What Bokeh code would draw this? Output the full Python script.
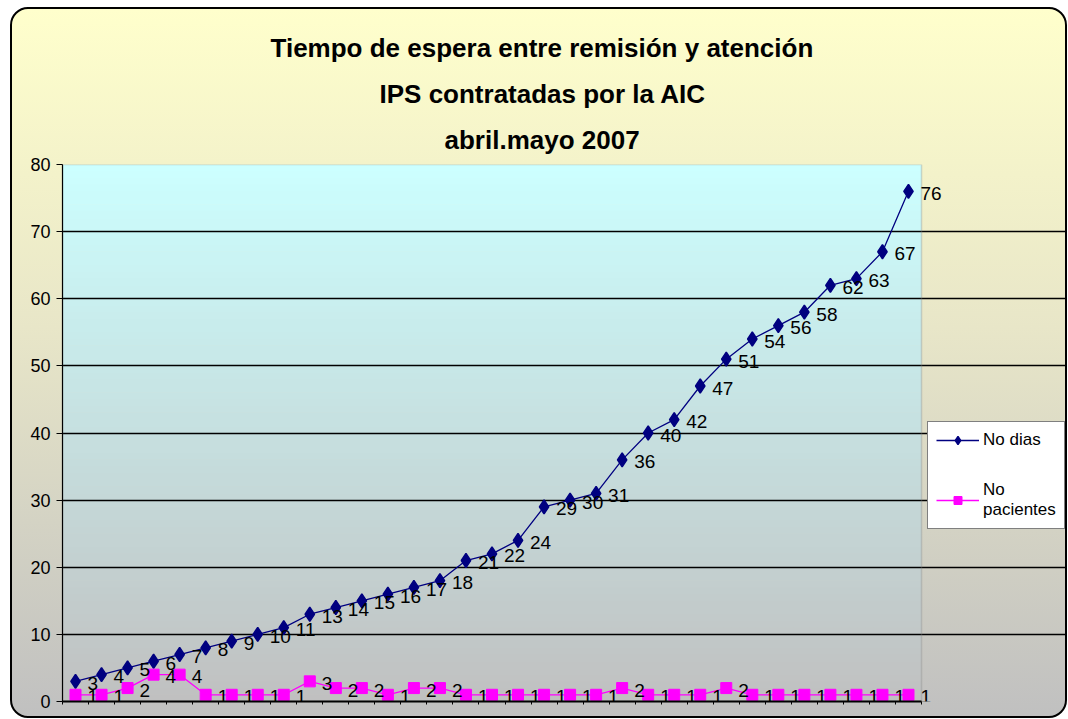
from bokeh.plotting import figure
from bokeh.models import (ColumnDataSource, LabelSet, Legend, LegendItem,
                          FixedTicker, BoxAnnotation, Title)
from bokeh.core.properties import value
from bokeh.embed import file_html
from bokeh.resources import INLINE

# ---------------- data ----------------
title_lines = ["Tiempo de espera entre remisión y atención",
               "IPS contratadas por la AIC",
               "abril.mayo 2007"]
no_dias = [3, 4, 5, 6, 7, 8, 9, 10, 11, 13, 14, 15, 16, 17, 18, 21, 22, 24,
           29, 30, 31, 36, 40, 42, 47, 51, 54, 56, 58, 62, 63, 67, 76]
no_pacientes = [1, 1, 2, 4, 4, 1, 1, 1, 1, 3, 2, 2, 1, 2, 2, 1, 1, 1,
                1, 1, 1, 2, 1, 1, 1, 2, 1, 1, 1, 1, 1, 1, 1]
series_names = ["No dias", "No\npacientes"]
y_ticks = [0, 10, 20, 30, 40, 50, 60, 70, 80]

# ---------------- styling / layout ----------------
FONT = "Liberation Sans, Arial, sans-serif"
BLUE = "#000080"
PINK = "#FF00FF"
W, H = 1057, 711
BORDER_L, BORDER_R = 50, 2
PLOT_PX = 859                      # width of the visible plot area
FRAME_PX = W - BORDER_L - BORDER_R  # frame also hosts the legend on the right

n = len(no_dias)
xs = list(range(n))
x_lo, x_hi = -0.5, n - 0.5
x_end = x_lo + (x_hi - x_lo) * FRAME_PX / PLOT_PX

p = figure(width=W, height=H,
           x_range=(x_lo, x_end), y_range=(y_ticks[0], y_ticks[-1]),
           output_backend="svg", toolbar_location=None,
           min_border_left=BORDER_L, min_border_right=BORDER_R,
           min_border_top=155, min_border_bottom=19,
           border_fill_color=None, background_fill_color=None,
           outline_line_color=None)
p.styles = {"background": "linear-gradient(to bottom, #FFFFCC 0%, #E8E6C8 45%, #C0C0C0 100%)",
            "border": "2px solid #000000",
            "border-radius": "18px",
            "margin-left": "10px",
            "margin-top": "7px"}

# plot-area gradient (light cyan -> silver)
top_c = (204, 255, 255)
bot_c = (192, 192, 192)
ymin, ymax = y_ticks[0], y_ticks[-1]
steps = 80
for i in range(steps):
    y0 = ymin + (ymax - ymin) * i / steps
    y1 = ymin + (ymax - ymin) * (i + 1) / steps
    t = (i + 0.5) / steps
    c = tuple(int(round(bot_c[k] + (top_c[k] - bot_c[k]) * t)) for k in range(3))
    p.add_layout(BoxAnnotation(left=x_lo, right=x_hi,
                               bottom=y0, top=min(y1 + 0.08, ymax),
                               fill_color="#%02x%02x%02x" % c, fill_alpha=1.0,
                               line_color=None, level="image"))
# plot-area border
p.add_layout(BoxAnnotation(left=x_lo, right=x_hi, bottom=ymin, top=ymax,
                           fill_color=None, line_color="#808080",
                           line_width=1.5, level="underlay"))

# grid
p.xgrid.grid_line_color = None
p.ygrid.ticker = FixedTicker(ticks=y_ticks[1:-1])
p.ygrid.bounds = (x_lo, x_hi)
p.ygrid.grid_line_color = "#000000"
p.ygrid.grid_line_width = 1.4

# y axis
p.yaxis.ticker = FixedTicker(ticks=y_ticks)
p.yaxis.axis_line_color = "#000000"
p.yaxis.axis_line_width = 1.2
p.yaxis.major_tick_line_color = "#000000"
p.yaxis.major_tick_out = 6
p.yaxis.major_tick_in = 0
p.yaxis.minor_tick_line_color = None
p.yaxis.major_label_text_font = FONT
p.yaxis.major_label_text_font_size = "18px"
p.yaxis.major_label_text_color = "#000000"
p.yaxis.major_label_standoff = 6

# x axis (category boundaries only, no labels)
bounds = [i - 0.5 for i in range(n + 1)]
p.xaxis.ticker = FixedTicker(ticks=bounds)
p.xaxis.bounds = (x_lo, x_hi)
p.xaxis.major_label_overrides = {b: "" for b in bounds}
p.xaxis.major_label_text_font_size = "1px"
p.xaxis.axis_line_color = "#000000"
p.xaxis.axis_line_width = 1.8
p.xaxis.major_tick_line_color = "#000000"
p.xaxis.major_tick_out = 3
p.xaxis.major_tick_in = 0
p.xaxis.minor_tick_line_color = None

# series
src = ColumnDataSource(dict(x=xs, dias=no_dias, pac=no_pacientes,
                            dias_t=[str(v) for v in no_dias],
                            pac_t=[str(v) for v in no_pacientes]))

l1 = p.line("x", "dias", source=src, line_color=BLUE, line_width=1.3)
m1 = p.scatter("x", "dias", source=src, marker="diamond",
               size=14, fill_color=BLUE, line_color=BLUE, line_width=1.5)
l2 = p.line("x", "pac", source=src, line_color=PINK, line_width=1.3)
m2 = p.scatter("x", "pac", source=src, marker="square", size=11,
               fill_color=PINK, line_color=PINK)

for ycol, tcol in (("dias", "dias_t"), ("pac", "pac_t")):
    p.add_layout(LabelSet(x="x", y=ycol, text=tcol, source=src,
                          x_offset=12, y_offset=-2,
                          text_font=value(FONT), text_font_size="19px",
                          text_color="#000000", text_baseline="middle",
                          text_align="left"))

legend = Legend(items=[LegendItem(label=series_names[0], renderers=[l1, m1]),
                       LegendItem(label=series_names[1], renderers=[l2, m2])],
                location=(865, 172))
legend.background_fill_color = "#FFFFFF"
legend.background_fill_alpha = 1.0
legend.border_line_color = "#000000"
legend.border_line_width = 1
legend.label_text_font = FONT
legend.label_text_font_size = "17px"
legend.label_text_color = "#000000"
legend.glyph_width = 43
legend.glyph_height = 20
legend.label_standoff = 4
legend.padding = 8
legend.spacing = 30
legend.margin = 0
p.add_layout(legend)

# title (three stacked lines; added bottom line first, top line is p.title)
TSIZE = "26px"
for line, so, off in ((title_lines[2], 20, 382), (title_lines[1], 8, 317)):
    p.add_layout(Title(text=line, align="left", offset=off,
                       text_font=FONT, text_font_style="bold",
                       text_font_size=TSIZE, text_color="#000000",
                       standoff=so), "above")
p.title.text = title_lines[0]
p.title.align = "left"
p.title.offset = 208
p.title.text_font = FONT
p.title.text_font_style = "bold"
p.title.text_font_size = TSIZE
p.title.text_color = "#000000"
p.title.standoff = 20

open("out.html", "w").write(file_html(p, INLINE))
